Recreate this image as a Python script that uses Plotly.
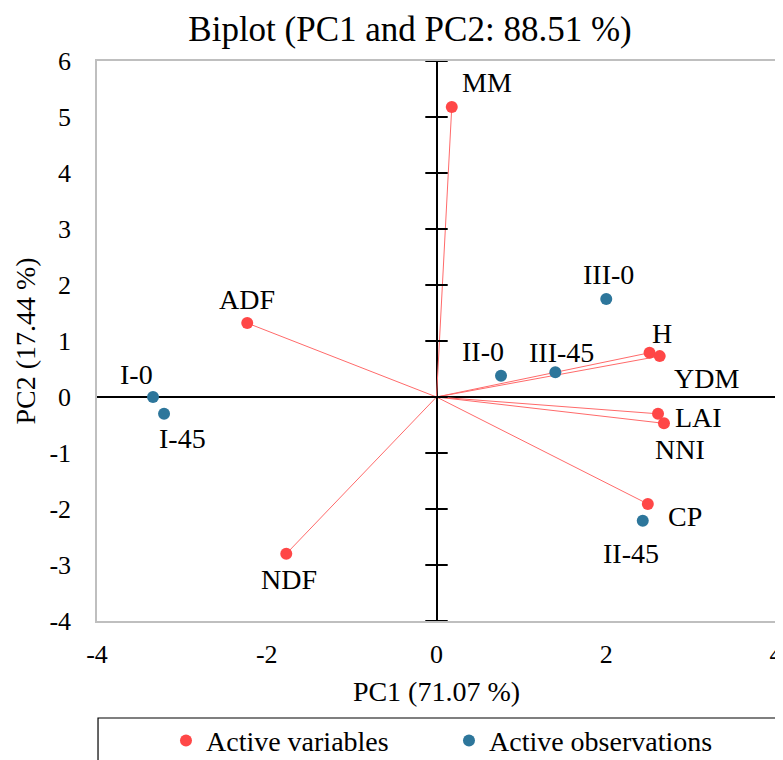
import plotly.graph_objects as go

# ---- data ----
var_names = ["MM", "ADF", "NDF", "H", "YDM", "LAI", "NNI", "CP"]
var_pc1 = [0.18, -2.23, -1.77, 2.51, 2.63, 2.61, 2.68, 2.49]
var_pc2 = [5.18, 1.32, -2.80, 0.79, 0.73, -0.30, -0.47, -1.91]

obs_names = ["I-0", "I-45", "II-0", "III-45", "III-0", "II-45"]
obs_pc1 = [-3.34, -3.21, 0.76, 1.40, 2.00, 2.43]
obs_pc2 = [0.00, -0.30, 0.38, 0.44, 1.75, -2.21]

x_ticks = [-4, -2, 0, 2, 4]
x_tick_labels = ["-4", "-2", "0", "2", "4"]
y_ticks = [-4, -3, -2, -1, 0, 1, 2, 3, 4, 5, 6]
y_tick_labels = ["-4", "-3", "-2", "-1", "0", "1", "2", "3", "4", "5", "6"]

title_text = "Biplot (PC1 and PC2: 88.51 %)"
x_title = "PC1 (71.07 %)"
y_title = "PC2 (17.44 %)"

# ---- label offsets (pixels; style only) ----
label_offsets = {
    "MM": (35, 24), "ADF": (0, 24), "NDF": (3, -26), "H": (12, 19),
    "YDM": (47, -22), "LAI": (40, -4), "NNI": (16, -26), "CP": (37, -13),
    "I-0": (-17, 23), "I-45": (18, -25), "II-0": (-18, 24), "III-45": (6, 20),
    "III-0": (2, 25), "II-45": (-12, -33),
}

RED = "#FF4747"
BLUE = "#2D769B"
FONT = "Liberation Serif, Times New Roman, serif"

# the page body adds an 8px margin, so the figure is sized/offset for it
fig = go.Figure()

# vectors from origin
lx, ly = [], []
for x, y in zip(var_pc1, var_pc2):
    lx += [0, x, None]
    ly += [0, y, None]
fig.add_trace(go.Scatter(x=lx, y=ly, mode="lines", line=dict(color="#FF6A6A", width=1),
                         showlegend=False, hoverinfo="skip"))

# tick marks on vertical zero axis
fig.add_trace(go.Scatter(x=[0] * len(y_ticks), y=y_ticks, mode="markers",
                         marker=dict(symbol="line-ew", size=16, line=dict(color="black", width=2)),
                         showlegend=False, hoverinfo="skip"))

fig.add_trace(go.Scatter(x=var_pc1, y=var_pc2, mode="markers", name="Active variables",
                         marker=dict(color=RED, size=12), text=var_names))
fig.add_trace(go.Scatter(x=obs_pc1, y=obs_pc2, mode="markers", name="Active observations",
                         marker=dict(color=BLUE, size=12), text=obs_names))

for names, xs, ys in [(var_names, var_pc1, var_pc2), (obs_names, obs_pc1, obs_pc2)]:
    for n, x, y in zip(names, xs, ys):
        dx, dy = label_offsets[n]
        fig.add_annotation(x=x, y=y, text=n, showarrow=False, xshift=dx, yshift=dy,
                           font=dict(family=FONT, size=28, color="black"))

# legend box
fig.add_shape(type="rect", xref="paper", yref="paper", x0=0.0015, x1=1.003, y0=-0.30, y1=-0.1732,
              line=dict(color="black", width=1.2), fillcolor="rgba(0,0,0,0)")

fig.update_layout(
    width=775, height=752,
    margin=dict(l=89, r=7, t=53, b=139, autoexpand=False),
    paper_bgcolor="white", plot_bgcolor="white",
    font=dict(family=FONT, size=26, color="black"),
    title=dict(text=title_text, xref="paper", x=0.461, xanchor="center", y=0.973, yanchor="middle",
               font=dict(family=FONT, size=35, color="black")),
    showlegend=True,
    legend=dict(orientation="h", x=0.1016, xanchor="left", y=-0.214, yanchor="middle",
                font=dict(family=FONT, size=28), itemwidth=30, entrywidth=238,
                entrywidthmode="pixels", bgcolor="rgba(0,0,0,0)"),
    xaxis=dict(range=[-4, 4], tickvals=x_ticks, ticktext=x_tick_labels, showgrid=False,
               zeroline=True, automargin=False,
               zerolinecolor="black", zerolinewidth=2, showline=True, mirror=True,
               linecolor="#BFBFBF", linewidth=1.5, ticks="", ticklabelstandoff=9,
               tickfont=dict(family=FONT, size=26),
               title=dict(text=x_title, standoff=13, font=dict(family=FONT, size=28))),
    yaxis=dict(range=[-4, 6], tickvals=y_ticks, ticktext=y_tick_labels, showgrid=False,
               zeroline=True, automargin=False,
               zerolinecolor="black", zerolinewidth=2, showline=True, mirror=True,
               linecolor="#BFBFBF", linewidth=1.5, ticks="", ticklabelstandoff=19,
               tickfont=dict(family=FONT, size=26),
               title=dict(text=y_title, standoff=6, font=dict(family=FONT, size=28))),
)

fig.write_html("out.html")
